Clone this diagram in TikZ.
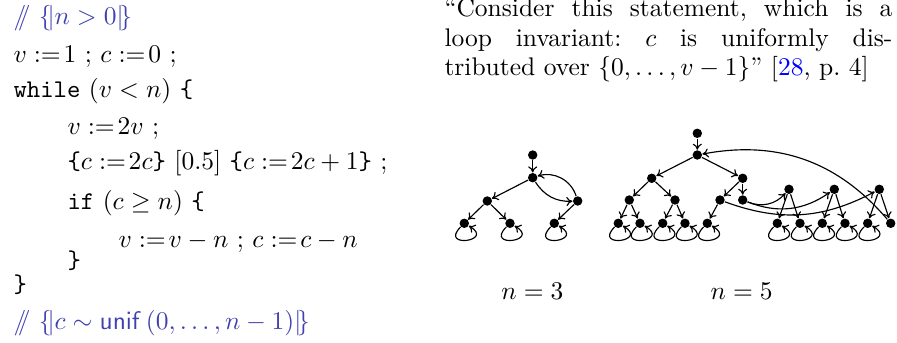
\documentclass[tikz,border=0pt]{standalone}
\usepackage{tikz}
\usetikzlibrary{arrows.meta}
\definecolor{CmtBlue}{RGB}{64,64,176}
\definecolor{CiteBlue}{RGB}{0,0,255}
\newcommand{\cmt}[1]{\textcolor{CmtBlue}{#1}}
\newcommand{\kw}[1]{\texttt{#1}}
\newcommand{\asgn}{\mathrel{:=}\mkern-3mu}
\newcommand{\bag}[1]{\{\!|#1|\!\}}
\newcommand{\selfloop}[1]{\draw[tr] (#1.-135) .. controls +(-135:12pt) and +(-30:12pt) .. (#1.-30);}
\tikzset{
  every picture/.append style={>={To[length=2.4pt,width=3.6pt]}},
  cl/.style={anchor=base west, inner sep=0pt, font=\normalsize},
  st/.style={circle, fill=black, inner sep=0pt, minimum size=3.7pt},
  tr/.style={->, line width=0.45pt},
  lbl/.style={anchor=base, inner sep=0pt},
}

\begin{document}
\begin{tikzpicture}[x=0.3922pt,y=-0.3922pt]
\useasboundingbox (0,0) rectangle (897,343);

% ---------------- program -------------------------------------------------------
\node[cl] (p1) at (13,25) {\cmt{$/\!\!/$\ $\bag{n>0}$}};
\node[cl] (p2) at (13,63) {$v\asgn 1$\ ;\ $c\asgn 0$\ ;};
\node[cl] (p3) at (13,98) {\kw{while}\,\,$(v<n)$\ \kw{\{}};
\node[cl] (p4) at (67,135) {$v\asgn 2v$\ ;};
\node[cl] (p5) at (67,170) {\kw{\{}$c\asgn 2c$\kw{\}}\ [0.5]\ \kw{\{}$c\asgn 2c+1$\kw{\}}\ ;};
\node[cl] (p6) at (67,210) {\kw{if}\,\,$(c\geq n)$\ \kw{\{}};
\node[cl] (p7) at (118,248) {$v\asgn v-n$\ ;\ $c\asgn c-n$};
\node[cl] (p8) at (67,269) {\kw{\}}};
\node[cl] (p9) at (13,293) {\kw{\}}};
\node[cl] (p10) at (13,330) {\cmt{$/\!\!/$\ $\bag{c\sim\mathsf{unif}\,(0,\ldots,n-1)}$}};

% ---------------- quote ---------------------------------------------------------
\node[anchor=base west, inner sep=0pt, text width=175.7pt, align=justify, font=\fontsize{10}{11.4}\selectfont] (qt) at (444,17)
  {\frenchspacing ``Consider this statement, which is a\linebreak loop invariant: $c$ is uniformly dis-\linebreak tributed over $\{0,\ldots,v-1\}$'' [\textcolor{CiteBlue}{28}, p.~4]};

% ---------------- n = 3 ---------------------------------------------------------
\node[st] (r3) at (532.7,155) {};
\node[st] (a3) at (532.7,177.7) {};
\node[st] (b3) at (487.3,201) {};
\node[st] (c3) at (577.7,201) {};
\node[st] (l31) at (464.3,223.3) {};
\node[st] (l32) at (510,223.3) {};
\node[st] (l33) at (554.3,223.3) {};
\draw[tr] (r3) -- (a3);
\draw[tr] (a3) -- (b3);
\draw[tr] (a3) to[bend right=30] (c3);
\draw[tr] (c3) to[bend right=45] (a3);
\draw[tr] (b3) -- (l31);
\draw[tr] (b3) -- (l32);
\draw[tr] (c3) -- (l33);
\foreach \l in {l31,l32,l33} {\selfloop{\l}}
\node[lbl] (n3) at (532.5,300) {$n=3$};

% ---------------- n = 5 ---------------------------------------------------------
\node[st] (r5) at (697.3,133.3) {};
\node[st] (a5) at (697.3,155) {};
\node[st] (b5) at (651.7,178.3) {};
\node[st] (c5) at (742.7,178.3) {};
\node[st] (b51) at (629.3,200) {};
\node[st] (b52) at (675,200) {};
\node[st] (c51) at (720,200) {};
\node[st] (c52) at (742.7,200) {};
\node[st] (d51) at (789,189.3) {};
\node[st] (d52) at (834.3,189.3) {};
\node[st] (d53) at (879.3,189.3) {};
\node[st] (l51) at (618.3,223.3) {};
\node[st] (l52) at (640,223.3) {};
\node[st] (l53) at (662.7,223.3) {};
\node[st] (l54) at (685,223.3) {};
\node[st] (l55) at (707.3,223.3) {};
\node[st] (l56) at (777.3,223.3) {};
\node[st] (l57) at (800,223.3) {};
\node[st] (l58) at (822.3,223.3) {};
\node[st] (l59) at (845,223.3) {};
\node[st] (l60) at (867.7,223.3) {};
\node[st] (e5) at (890.7,223.3) {};
\draw[tr] (r5) -- (a5);
\draw[tr] (a5) -- (b5);
\draw[tr] (a5) -- (c5);
\draw[tr] (b5) -- (b51);
\draw[tr] (b5) -- (b52);
\draw[tr] (c5) -- (c51);
\draw[tr] (c5) -- (c52);
\draw[tr] (b51) -- (l51);
\draw[tr] (b51) -- (l52);
\draw[tr] (b52) -- (l53);
\draw[tr] (b52) -- (l54);
\draw[tr] (c51) -- (l55);
\draw[tr] (c52) to[bend right=35] (d51);
\draw[tr] (c52) to[bend right=28] (d52);
\draw[tr] (c51) to[bend right=24] (d53);
\draw[tr] (d51) -- (l56);
\draw[tr] (d51) -- (l57);
\draw[tr] (d52) -- (l58);
\draw[tr] (d52) -- (l59);
\draw[tr] (d53) -- (l60);
\draw[tr] (d53) -- (e5);
\draw[tr] (e5) to[bend right=30] (a5);
\foreach \l in {l51,l52,l53,l54,l55,l56,l57,l58,l59,l60} {\selfloop{\l}}
\node[lbl] (n5) at (741.7,300) {$n=5$};

\end{tikzpicture}
\end{document}
